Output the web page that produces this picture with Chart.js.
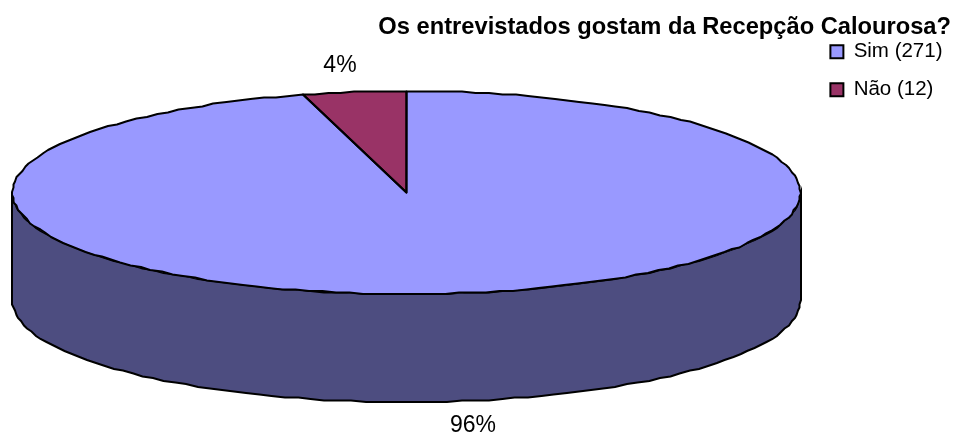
<!DOCTYPE html>
<html>
<head>
<meta charset="utf-8">
<title>Recepção Calourosa</title>
<script src="https://cdn.jsdelivr.net/npm/chart.js@4"></script>
<style>
    html, body { margin: 0; padding: 0; background: #fff; overflow: hidden; }
    canvas { display: block; }
</style>
</head>
<body>
<canvas id="pieChart" width="956" height="433"></canvas>
<script>
const chartTitle = 'Os entrevistados gostam da Recepção Calourosa?';
const categories = ['Sim', 'Não'];
const answers    = [271, 12];
const faceColors = ['#9999FF', '#993366'];
const wallColors = ['#4D4D80', '#4D1A33'];

// look of the tilted pie, in pixels
const PIE_RX = 394;
const PIE_RY = 101.5;
const PIE_DEPTH = 108;
const LABEL_REACH = 1.27;
const FONT = '"Liberation Sans", Arial, sans-serif';

const total = answers.reduce((a, b) => a + b, 0);

// rim of the ellipse as a coarse polyline, snapped to a pixel grid like the original
function rimPoints(cx, cy, a0, a1) {
    const snap = v => Math.round(v / 1.5) * 1.5;
    const steps = Math.max(1, Math.round((a1 - a0) / (2 * Math.PI / 180)));
    const pts = [];
    for (let i = 0; i <= steps; i++) {
        const a = a0 + (a1 - a0) * i / steps;
        pts.push([snap(cx + PIE_RX * Math.cos(a)), snap(cy + PIE_RY * Math.sin(a))]);
    }
    return pts;
}

function tracePoints(ctx, pts, first) {
    pts.forEach(([x, y], i) => {
        if (i === 0 && first) ctx.moveTo(x, y);
        else ctx.lineTo(x, y);
    });
}

const tiltedPie = {
    id: 'tiltedPie',
    afterLayout(chart) {
        chart.titleBlock.right = chart.width - 5;
    },
    beforeDatasetsDraw(chart) {
        const { ctx } = chart;
        const arcs = chart.getDatasetMeta(0).data;
        const { x, y, outerRadius } = arcs[0];

        // side wall, only the part of each slice on the near half
        ctx.save();
        ctx.lineWidth = 2;
        ctx.strokeStyle = '#000';
        arcs.forEach((arc, i) => {
            const a0 = Math.max(arc.startAngle, 0);
            const a1 = Math.min(arc.endAngle, Math.PI);
            if (a1 <= a0) return;
            const top = rimPoints(x, y, a0, a1);
            const bottom = rimPoints(x, y + PIE_DEPTH, a0, a1).reverse();
            ctx.beginPath();
            tracePoints(ctx, top, true);
            tracePoints(ctx, bottom, false);
            ctx.closePath();
            ctx.fillStyle = wallColors[i];
            ctx.fill();
            ctx.stroke();
        });
        ctx.restore();

        // squash the library's round pie into the ellipse
        ctx.save();
        ctx.translate(x, y);
        ctx.scale(PIE_RX / outerRadius, PIE_RY / outerRadius);
        ctx.translate(-x, -y);
    },
    afterDatasetsDraw(chart) {
        const { ctx } = chart;
        ctx.restore();

        const arcs = chart.getDatasetMeta(0).data;
        ctx.save();
        ctx.lineWidth = 2;
        ctx.strokeStyle = '#000';
        ctx.lineJoin = 'round';
        arcs.forEach(arc => {
            ctx.beginPath();
            ctx.moveTo(arc.x, arc.y);
            tracePoints(ctx, rimPoints(arc.x, arc.y, arc.startAngle, arc.endAngle), false);
            ctx.closePath();
            ctx.stroke();
        });

        ctx.fillStyle = '#000';
        ctx.font = '23px ' + FONT;
        ctx.textAlign = 'center';
        ctx.textBaseline = 'middle';
        arcs.forEach((arc, i) => {
            const mid = (arc.startAngle + arc.endAngle) / 2;
            const s = Math.sin(mid);
            const lx = arc.x + PIE_RX * LABEL_REACH * Math.cos(mid);
            const ly = s > 0
                ? arc.y + PIE_RY * s + PIE_DEPTH + 24
                : arc.y + PIE_RY * s - 26;
            ctx.fillText(Math.round(answers[i] / total * 100) + '%', lx, ly);
        });
        ctx.restore();
    }
};

new Chart(document.getElementById('pieChart'), {
    type: 'pie',
    data: {
        labels: categories,
        datasets: [{
            data: answers,
            backgroundColor: faceColors,
            borderWidth: 0
        }]
    },
    options: {
        responsive: false,
        animation: false,
        layout: { padding: { left: -2.5, right: 3.5, top: 24, bottom: 86.75 } },
        plugins: {
            tooltip: { enabled: false },
            title: {
                display: true,
                text: chartTitle,
                align: 'end',
                color: '#000',
                font: { family: FONT, size: 23.7, weight: 'bold' },
                padding: { top: -11, bottom: -2.5 }
            },
            legend: {
                position: 'right',
                align: 'start',
                labels: {
                    boxWidth: 13,
                    boxHeight: 13,
                    padding: 17.5,
                    color: '#000',
                    font: { family: FONT, size: 20.5 },
                    generateLabels: () => categories.map((name, i) => ({
                        text: `${name} (${answers[i]})`,
                        fillStyle: faceColors[i],
                        strokeStyle: '#000',
                        lineWidth: 2,
                        index: i
                    }))
                }
            }
        }
    },
    plugins: [tiltedPie]
});
</script>
</body>
</html>
